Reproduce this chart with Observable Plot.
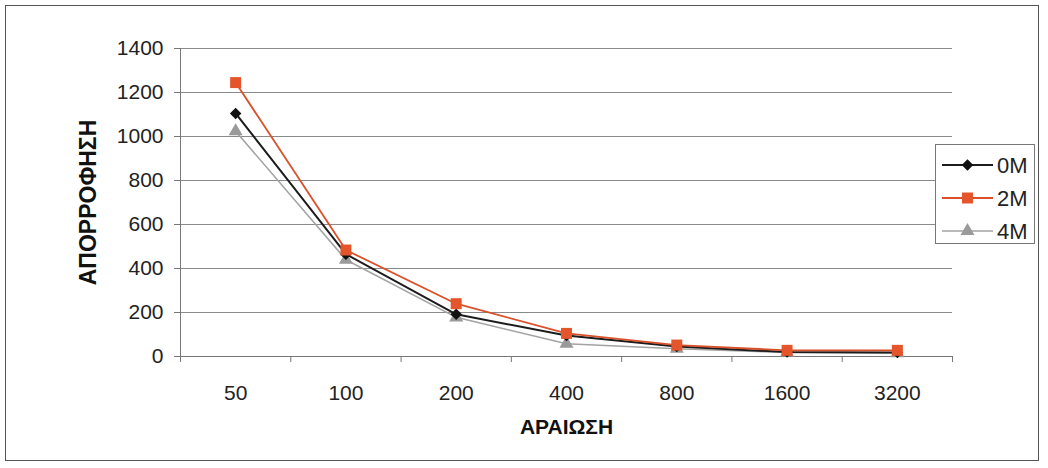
<!DOCTYPE html>
<html>
<head>
<meta charset="utf-8">
<script src="https://cdn.jsdelivr.net/npm/d3@7"></script>
<script src="https://cdn.jsdelivr.net/npm/@observablehq/plot@0.6"></script>
<style>
  html, body { margin: 0; padding: 0; background: #fff; }
  #wrap { position: relative; width: 1048px; height: 468px; overflow: hidden; font-family: "Liberation Sans", Arial, sans-serif; }
  #border { position: absolute; left: 5px; top: 5px; width: 1034px; height: 456px; border: 1px solid #555; box-sizing: border-box; }
  #chart { position: absolute; left: 0; top: 0; }
  #legend { position: absolute; left: 935px; top: 144px; width: 100px; height: 100px; border: 1px solid #777; box-sizing: border-box; background: #fff; }
</style>
</head>
<body>
<div id="wrap">
  <div id="border"></div>
  <div id="chart"></div>
  <div id="legend"></div>
</div>
<script>
// ---- data ----
const dilutions = ["50", "100", "200", "400", "800", "1600", "3200"];
const seriesNames = ["0M", "2M", "4M"];
const values0M = [1105, 465, 192, 95, 45, 20, 18];
const values2M = [1245, 484, 240, 105, 52, 28, 28];
const values4M = [1024, 440, 178, 58, 35, 18, 15];
const yTicks = [0, 200, 400, 600, 800, 1000, 1200, 1400];
const xTitle = "ΑΡΑΙΩΣΗ";
const yTitle = "ΑΠΟΡΡΟΦΗΣΗ";

const colors = {"0M": "#1c1c1c", "2M": "#d9502b", "4M": "#a3a3a3"};
const fills = {"0M": "#111111", "2M": "#e5552c", "4M": "#9a9a9a"};
const symbols = {"0M": "diamond2", "2M": "square", "4M": "triangle"};
const radii = {"0M": 5.2, "2M": 6.2, "4M": 5.2};
const widths = {"0M": 2, "2M": 1.8, "4M": 1.6};

const seriesValues = {"0M": values0M, "2M": values2M, "4M": values4M};
const rows = [];
for (const s of seriesNames) {
  seriesValues[s].forEach((v, i) => rows.push({series: s, i, dil: dilutions[i], v}));
}
const drawOrder = ["4M", "0M", "2M"];
const idx = dilutions.map((d, i) => i);
const bounds = dilutions.map((d, i) => i - 0.5).concat([dilutions.length - 0.5]);

const marks = [
  Plot.gridY(yTicks, {stroke: "#8a8a8a", strokeOpacity: 1, strokeWidth: 1}),
  Plot.ruleY([0], {stroke: "#777", strokeWidth: 1}),
  Plot.ruleX([-0.5], {stroke: "#777", strokeWidth: 1}),
  Plot.axisY({ticks: yTicks, tickSize: 6, tickPadding: 11, tickFormat: d3.format("d"), fontSize: 21, label: null, stroke: "#777", color: "#222"}),
  Plot.axisX({ticks: idx, tickSize: 0, tickPadding: 29, tickFormat: i => dilutions[i], fontSize: 21, label: null, color: "#222"}),
  Plot.axisX({ticks: bounds, tickSize: 6, tickFormat: () => "", label: null, stroke: "#777"})
];
for (const s of drawOrder) {
  const d = rows.filter(r => r.series === s);
  marks.push(Plot.line(d, {x: "i", y: "v", stroke: colors[s], strokeWidth: widths[s]}));
}
for (const s of drawOrder) {
  const d = rows.filter(r => r.series === s);
  marks.push(Plot.dot(d, {x: "i", y: "v", symbol: () => symbols[s], fill: fills[s], stroke: "none", r: radii[s]}));
}
marks.push(Plot.text([xTitle], {frameAnchor: "bottom", dy: 77, fontSize: 21, fontWeight: "bold", fill: "#111", textAnchor: "middle"}));
marks.push(Plot.text([yTitle], {frameAnchor: "left", dx: -92, rotate: -90, fontSize: 23, fontWeight: "bold", fill: "#111", textAnchor: "middle"}));

const chart = Plot.plot({
  width: 1048,
  height: 468,
  marginLeft: 180,
  marginRight: 96,
  marginTop: 48,
  marginBottom: 112,
  style: {fontFamily: "'Liberation Sans', Arial, sans-serif", background: "transparent", overflow: "visible"},
  x: {type: "linear", domain: [-0.5, dilutions.length - 0.5]},
  y: {type: "linear", domain: [0, 1400]},
  symbol: {type: "identity"},
  marks
});
document.getElementById("chart").appendChild(chart);

// ---- legend (built from the series arrays) ----
const leg = d3.select("#legend").append("svg").attr("width", 98).attr("height", 98);
seriesNames.forEach((s, k) => {
  const g = leg.append("g").attr("transform", `translate(0, ${20 + k * 33})`);
  g.append("line").attr("x1", 6).attr("x2", 57).attr("y1", 0).attr("y2", 0)
    .attr("stroke", colors[s]).attr("stroke-width", widths[s]);
  const symType = {"diamond2": d3.symbolDiamond2, "square": d3.symbolSquare, "triangle": d3.symbolTriangle}[symbols[s]];
  g.append("path").attr("transform", "translate(31.5,0)")
    .attr("d", d3.symbol(symType, Math.PI * radii[s] * radii[s])())
    .attr("fill", fills[s]);
  g.append("text").attr("x", 61).attr("y", 0).attr("dy", "0.36em")
    .attr("font-size", 22).attr("fill", "#222")
    .attr("font-family", "'Liberation Sans', Arial, sans-serif").text(s);
});
</script>
</body>
</html>
